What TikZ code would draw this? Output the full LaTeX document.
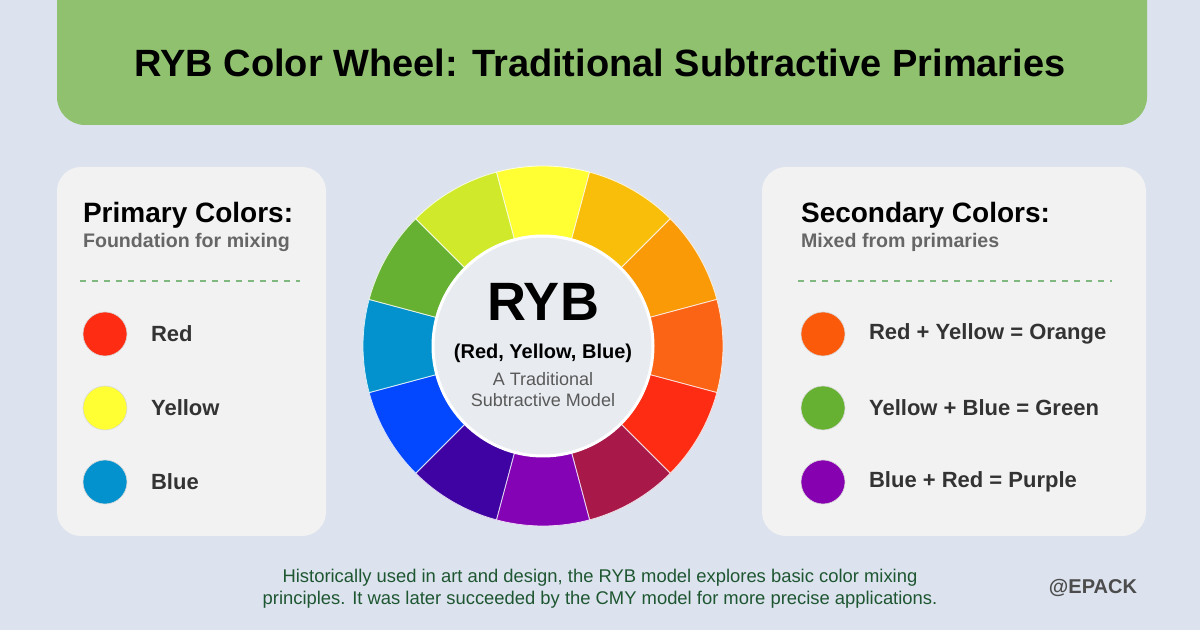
\documentclass[tikz,border=0pt]{standalone}
\usepackage{fontspec}
\setmainfont{Liberation Sans}
\begin{document}
\begin{tikzpicture}[x=0.5pt,y=-0.5pt,
  panel/.style={fill=panelc,rounded corners=12pt},
  dot/.style={circle,minimum size=22pt,inner sep=0pt,draw=black!15,line width=0.3pt},
  lbl/.style={anchor=west,font=\fontsize{11pt}{13pt}\selectfont\bfseries,text=black!80},
  head/.style={anchor=west,font=\fontsize{14pt}{16pt}\selectfont\bfseries},
  sub/.style={anchor=west,font=\fontsize{9.8pt}{11pt}\selectfont\bfseries,text=black!60},
  sep/.style={dashed,draw=green!45!black!50,line width=0.6pt}]
\definecolor{bg}{HTML}{DCE3EE}
\definecolor{banner}{HTML}{8FC16F}
\definecolor{panelc}{HTML}{F2F2F2}
\definecolor{note}{HTML}{1E5631}
\fill[bg] (0,0) rectangle (1200,630);
\useasboundingbox (0,0) rectangle (1200,630);
\fill[banner,rounded corners=14pt] (57,-30) rectangle (1147,125);
\node[font=\fontsize{19pt}{22pt}\selectfont\bfseries] (title) at (600,63) {RYB Color Wheel: Traditional Subtractive Primaries};
% panels
\fill[panel] (57,167) rectangle (326,536);
\fill[panel] (762,167) rectangle (1146,536);
\node[head] (ph) at (76,215) {Primary Colors:};
\node[sub] (ps) at (76,242) {Foundation for mixing};
\draw[sep] (80,281) -- (300,281);
\node[dot,fill={rgb,255:red,253;green,44;blue,18}] (c1) at (105,334) {};
\node[dot,fill={rgb,255:red,255;green,255;blue,51}] (c2) at (105,408) {};
\node[dot,fill={rgb,255:red,3;green,146;blue,206}] (c3) at (105,482) {};
\node[lbl] (l1) at (144,334) {Red};
\node[lbl] (l2) at (144,408) {Yellow};
\node[lbl] (l3) at (144,482) {Blue};
\node[head] (sh) at (794,215) {Secondary Colors:};
\node[sub] (ss) at (794,242) {Mixed from primaries};
\draw[sep] (798,281) -- (1112,281);
\node[dot,fill={rgb,255:red,250;green,90;blue,10}] (d1) at (823,334) {};
\node[dot,fill={rgb,255:red,102;green,176;blue,50}] (d2) at (823,408) {};
\node[dot,fill={rgb,255:red,134;green,1;blue,175}] (d3) at (823,482) {};
\node[lbl] (m1) at (862,334) {Red + Yellow = Orange};
\node[lbl] (m2) at (862,408) {Yellow + Blue = Green};
\node[lbl] (m3) at (862,482) {Blue + Red = Purple};
% wheel
\def\cx{543}\def\cy{346}\def\ro{180}\def\ri{110}
\foreach \a/\c in {90/FFFF33,60/F9BE0A,30/FA9A06,0/FA6414,-30/FD2C12,-60/A8194A,-90/8403B5,-120/3F03A3,-150/0347FE,180/0392CE,150/66B032,120/D0EA2B}{
  \definecolor{seg}{HTML}{\c}
  \fill[seg,draw=white!85!seg,line width=0.4pt] ({\cx+\ri*cos(\a-15)},{\cy-\ri*sin(\a-15)}) -- ({\cx+\ro*cos(\a-15)},{\cy-\ro*sin(\a-15)}) arc[start angle={-(\a-15)},end angle={-(\a+15)},radius=\ro] -- ({\cx+\ri*cos(\a+15)},{\cy-\ri*sin(\a+15)}) arc[start angle={-(\a+15)},end angle={-(\a-15)},radius=\ri] -- cycle;
}
\fill[fill={rgb,255:red,232;green,236;blue,241},draw=white,line width=1.5pt] (\cx,\cy) circle[radius=\ri];
\node[font=\fontsize{27pt}{30pt}\selectfont\bfseries] (ryb) at (543,302) {RYB};
\node[font=\fontsize{10pt}{12pt}\selectfont\bfseries] (ryb2) at (543,353) {(Red, Yellow, Blue)};
\node[font=\fontsize{9pt}{10.5pt}\selectfont,text=black!65,align=center] (ryb3) at (543,390) {A Traditional\\Subtractive Model};
\node[font=\fontsize{9.2pt}{11pt}\selectfont,text=note,align=center] (foot) at (600,589) {Historically used in art and design, the RYB model explores basic color mixing\\principles. It was later succeeded by the CMY model for more precise applications.};
\node[font=\fontsize{10pt}{12pt}\selectfont\bfseries,text=black!70] (brand) at (1093,588) {@EPACK};
\end{tikzpicture}
\end{document}
